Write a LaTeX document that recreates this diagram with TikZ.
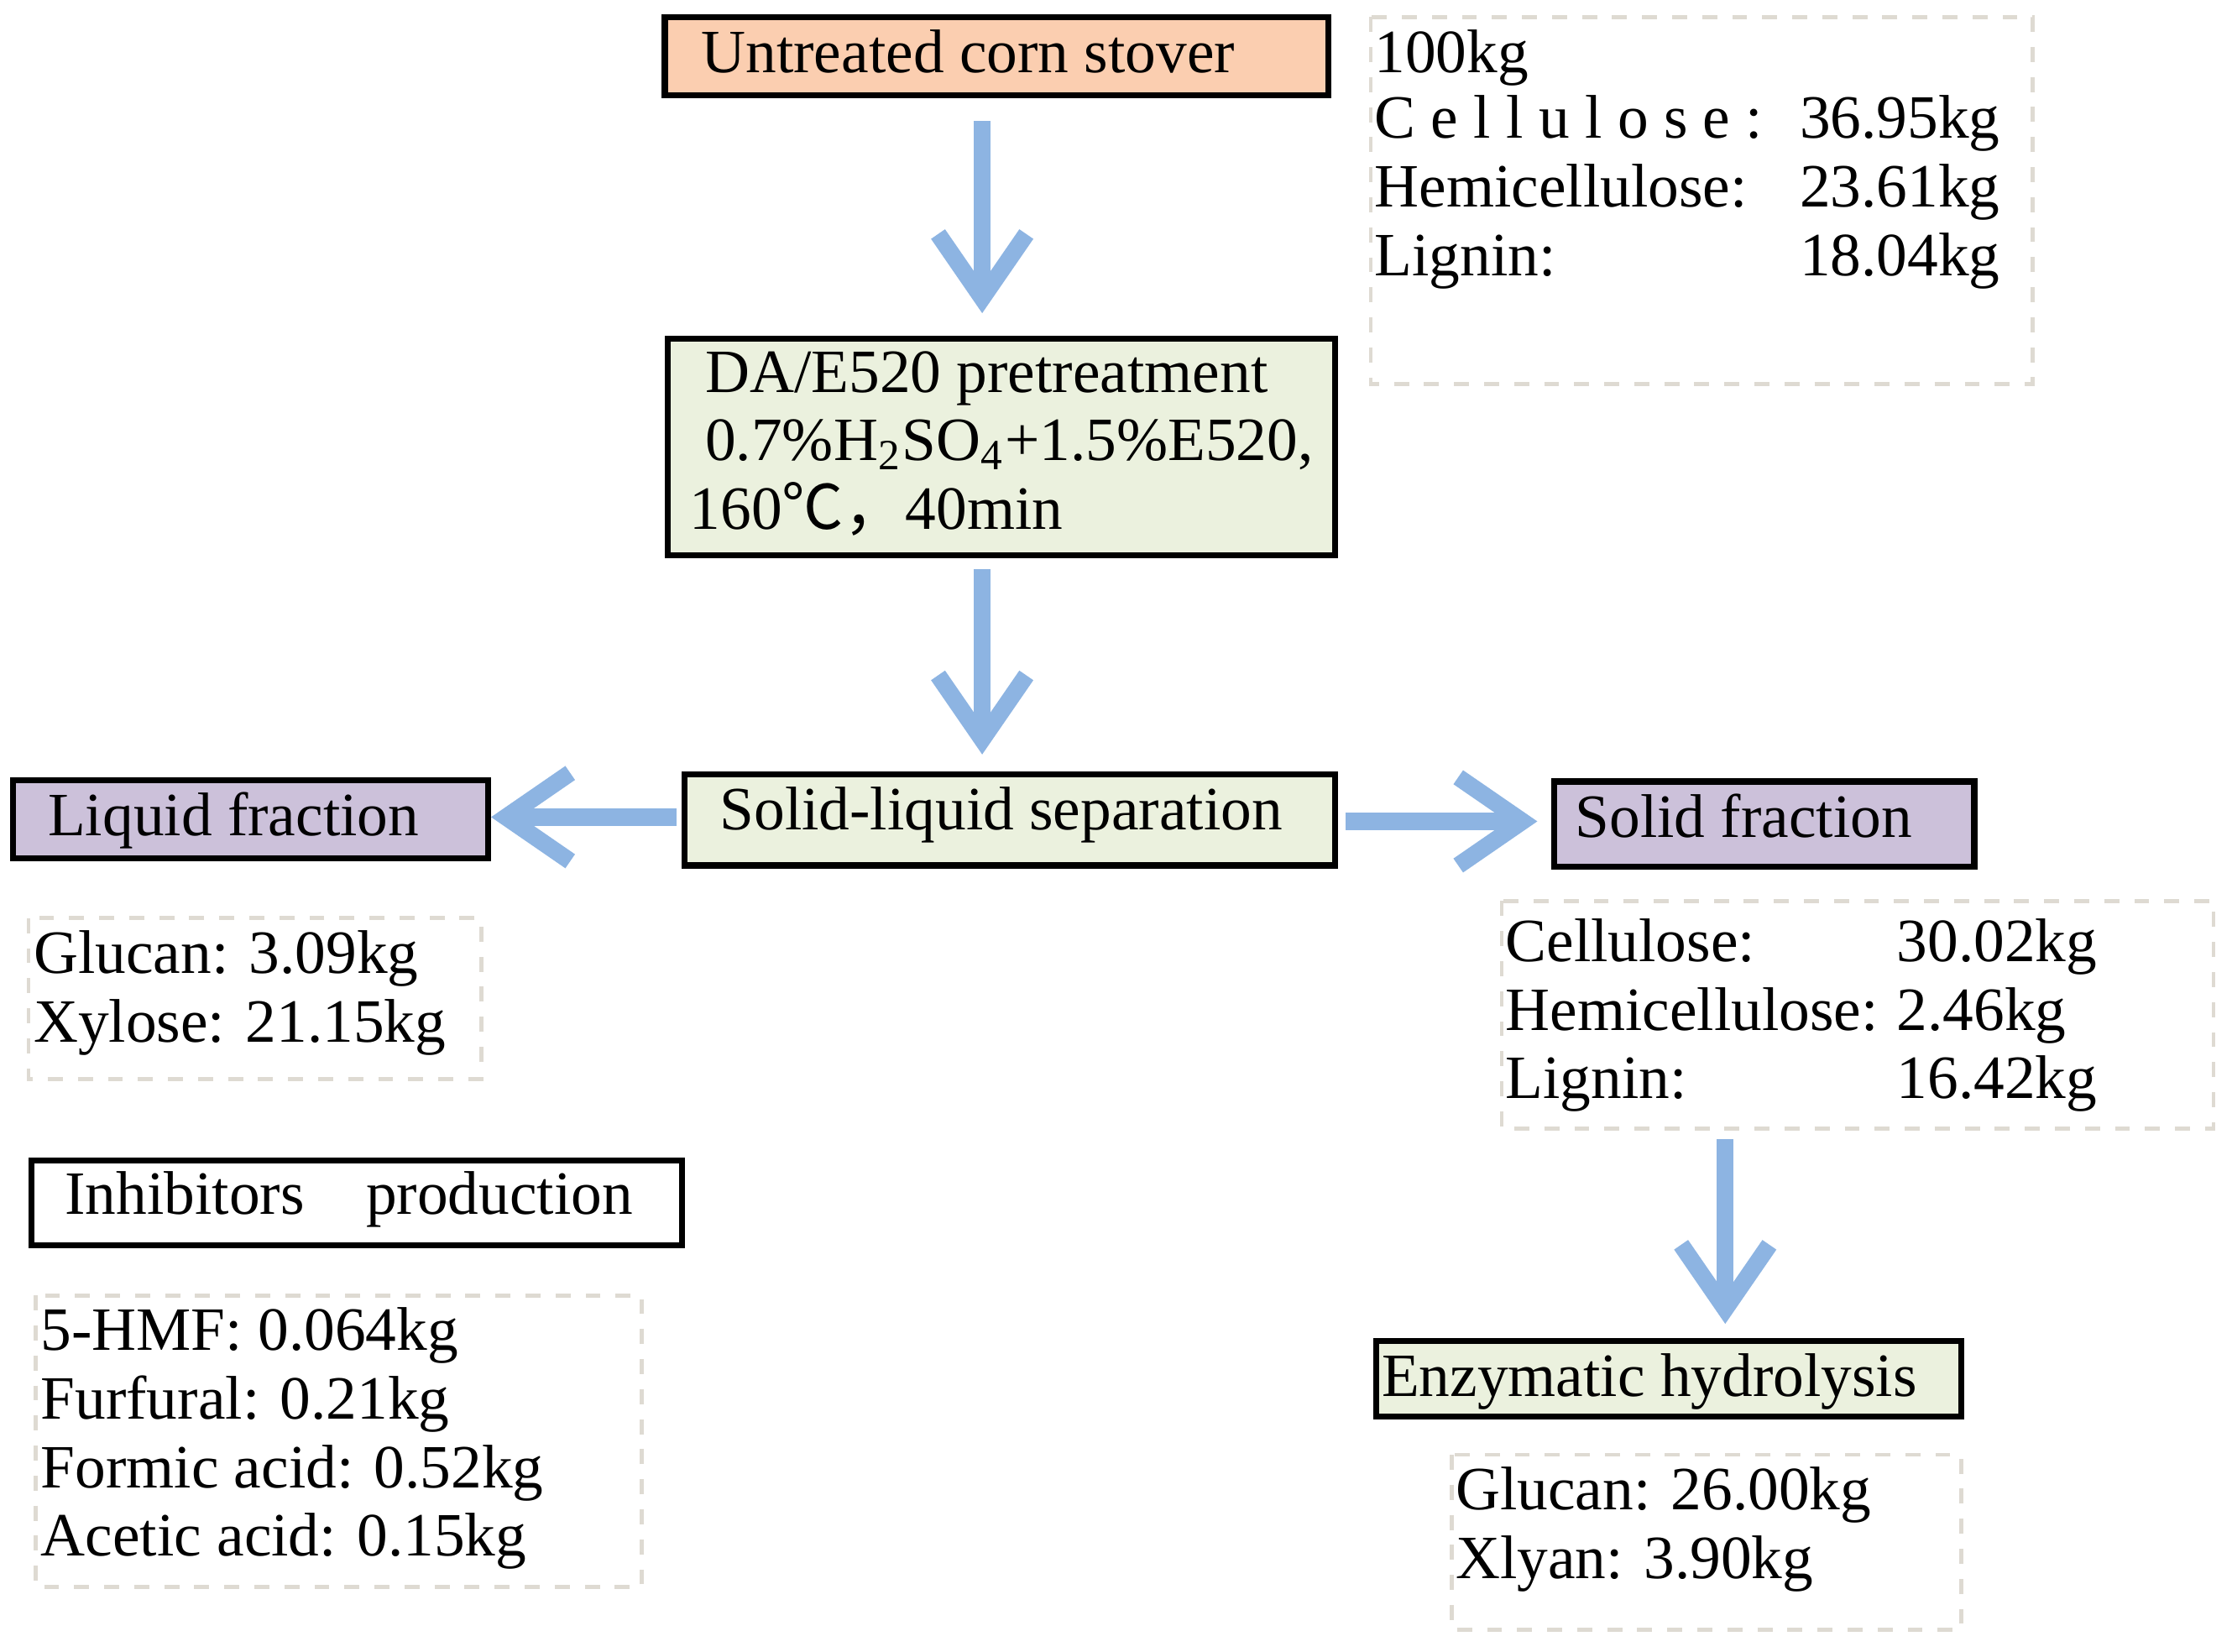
\documentclass[tikz,border=0pt]{standalone}
\usepackage{fontspec}
\setmainfont{Liberation Serif}
\newfontfamily\cjk{Noto Sans CJK SC}
\usetikzlibrary{arrows.meta}
\definecolor{peach}{RGB}{251,206,176}
\definecolor{palegreen}{RGB}{235,241,222}
\definecolor{lavender}{RGB}{204,193,218}
\definecolor{flowblue}{RGB}{141,180,226}
\definecolor{dashgray}{RGB}{222,218,210}

\begin{document}
\begin{tikzpicture}[x=0.01cm,y=-0.01cm]
    \tikzstyle{box_style} = [draw=black, line width=1.2pt, inner sep=0pt]
    \tikzstyle{note_style} = [draw=dashgray, dashed, line width=0.8pt, inner sep=0pt]
    \tikzstyle{flow_style} = [-{Straight Barb[length=0.45cm,width=0.62cm]}, line width=3.4pt, flowblue]
    \tikzstyle{txt_style} = [anchor=north west, align=left, inner sep=0pt, font=\fontsize{12.3}{13.7}\selectfont]

    \useasboundingbox (0,0) rectangle (1568,1160);

    % boxes
    \draw[box_style, fill=peach] (467,12) rectangle (933,67);
    \node[txt_style] (untreated) at (492,20) {Untreated corn stover};
    \draw[box_style, fill=palegreen] (469,238) rectangle (938,390);
    \node[txt_style] (pretreat) at (484,246) {\ DA/E520 pretreatment\\ \ 0.7\%H\textsubscript{2}SO\textsubscript{4}+1.5\%E520,\\160{\cjk ℃，}40min};
    \draw[box_style, fill=palegreen] (481,544) rectangle (938,608);
    \node[txt_style] (separation) at (505,552) {Solid-liquid separation};
    \draw[box_style, fill=lavender] (9,548) rectangle (343,603);
    \node[txt_style] (liquid) at (33,556) {Liquid fraction};
    \draw[box_style, fill=lavender] (1092,549) rectangle (1387,609);
    \node[txt_style] (solid) at (1106,557) {Solid fraction};
    \draw[box_style, fill=white] (22,815) rectangle (479,875);
    \node[txt_style] (inhib) at (45,822) {Inhibitors\quad production};
    \draw[box_style, fill=palegreen] (967,942) rectangle (1378,995);
    \node[txt_style] (enzyme) at (970,950) {Enzymatic hydrolysis};

    % notes
    \draw[note_style] (963,12) rectangle (1428,270);
    \node[txt_style] (raw) at (965,20) {100kg\\
      \begin{tabular}{@{}l@{\hspace{0.6em}}l@{}}C e l l u l o s e : & 36.95kg\\Hemicellulose: & 23.61kg\\Lignin: & 18.04kg\end{tabular}};
    \draw[note_style] (20,645) rectangle (338,758);
    \node[txt_style] (liqcomp) at (23,653) {Glucan: 3.09kg\\Xylose: 21.15kg};
    \draw[note_style] (25,910) rectangle (451,1115);
    \node[txt_style] (inhibcomp) at (28,918) {5-HMF: 0.064kg\\Furfural: 0.21kg\\Formic acid: 0.52kg\\Acetic acid: 0.15kg};
    \draw[note_style] (1055,633) rectangle (1555,793);
    \node[txt_style] (solcomp) at (1057,641) {\begin{tabular}{@{}l@{\hspace{0.3em}}l@{}}Cellulose: & 30.02kg\\Hemicellulose: & 2.46kg\\Lignin: & 16.42kg\end{tabular}};
    \draw[note_style] (1020,1022) rectangle (1378,1145);
    \node[txt_style] (enzcomp) at (1022,1030) {Glucan: 26.00kg\\Xlyan: 3.90kg};

    % arrows
    \coordinate (a1) at (690,85);   \coordinate (b1) at (690,220);
    \coordinate (a2) at (690,400);  \coordinate (b2) at (690,530);
    \coordinate (a3) at (475,574);  \coordinate (b3) at (345,574);
    \coordinate (a4) at (945,577);  \coordinate (b4) at (1080,577);
    \coordinate (a5) at (1212,800); \coordinate (b5) at (1212,930);
    \foreach \s/\e in {a1/b1, a2/b2, a3/b3, a4/b4, a5/b5}
        \draw[flow_style] (\s) -- (\e);
\end{tikzpicture}
\end{document}
